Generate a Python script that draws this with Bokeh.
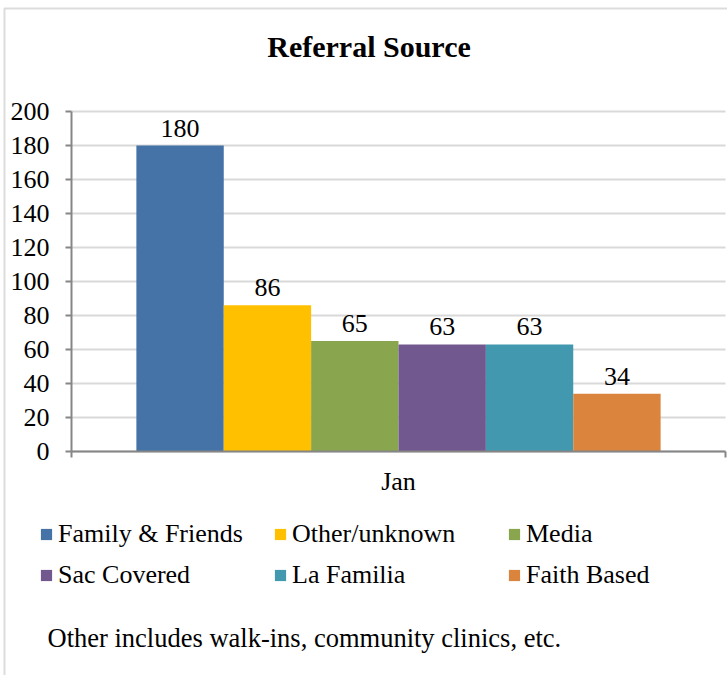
from bokeh.plotting import figure
from bokeh.models import (ColumnDataSource, Legend, LegendItem, Label, BoxAnnotation,
                          LabelSet, LinearAxis, Range1d, FixedTicker, Grid)
from bokeh.transform import dodge
from bokeh.embed import file_html
from bokeh.resources import INLINE

# ---- data ----
categories = ["Jan"]
series = ["Family & Friends", "Other/unknown", "Media", "Sac Covered", "La Familia", "Faith Based"]
values = [180, 86, 65, 63, 63, 34]
colors = ["#4572A7", "#FFC000", "#89A54E", "#71588F", "#4198AF", "#DB843D"]
y_ticks = [0, 20, 40, 60, 80, 100, 120, 140, 160, 180, 200]
y_max = 200
title_text = "Referral Source"
note_text = "Other includes walk-ins, community clinics, etc."

FONT = "Liberation Serif"
FS = "26px"
AXIS_COLOR = "#868686"
GRID_COLOR = "#D9D9D9"
BORDER_COLOR = "#8C8C8C"

# ---- layout constants (pixels) ----
W, H = 727, 675
PLOT_TOP = 111          # pixel row of y_max
PLOT_BOTTOM = 451       # pixel row of 0
PLOT_LEFT, PLOT_RIGHT = 71, 725

ncat = len(categories)
cat_centers = [i + 0.5 for i in range(ncat)]
cat_edges = [float(i) for i in range(ncat + 1)]

# the frame covers the whole canvas; the axes sit at fixed data locations
xpu = (PLOT_RIGHT - PLOT_LEFT) / ncat
ypu = (PLOT_BOTTOM - PLOT_TOP) / y_max
x0, x1 = -PLOT_LEFT / xpu, (W - PLOT_LEFT) / xpu
y0, y1 = -(H - PLOT_BOTTOM) / ypu, y_max + PLOT_TOP / ypu

p = figure(x_range=Range1d(x0, x1), y_range=Range1d(y0, y1),
           width=W, height=H, output_backend="svg", toolbar_location=None,
           x_axis_location=None,
           min_border_left=0, min_border_right=0, min_border_top=0, min_border_bottom=0)
p.outline_line_color = None
p.xgrid.visible = False

# chart border (left and top edges visible)
p.add_layout(BoxAnnotation(left=x0 + 4 / xpu, right=x1 + 20 / xpu,
                           top=y1 - 8 / ypu, bottom=y0 - 20 / ypu,
                           fill_alpha=0, line_color=BORDER_COLOR, line_width=2,
                           level="underlay"))

# y axis
ya = p.yaxis[0]
ya.fixed_location = 0
ya.bounds = (0, y_max)
ya.ticker = FixedTicker(ticks=y_ticks)
ya.major_label_text_font = FONT
ya.major_label_text_font_size = FS
ya.major_label_text_color = "black"
ya.major_label_standoff = 16
ya.major_tick_out = 6
ya.major_tick_in = 0
ya.minor_tick_line_color = None
ya.axis_line_color = AXIS_COLOR
ya.axis_line_width = 2
ya.major_tick_line_color = AXIS_COLOR
ya.major_tick_line_width = 2

yg = p.ygrid[0]
yg.ticker = FixedTicker(ticks=y_ticks)
yg.bounds = (0, y_max)
if "cross_bounds" in Grid.properties():
    yg.cross_bounds = (0, ncat)
yg.grid_line_color = GRID_COLOR
yg.grid_line_width = 2

# x axis: category labels, boundary tick marks at the category edges
xa = LinearAxis(fixed_location=0, bounds=(0, ncat),
                ticker=FixedTicker(ticks=cat_centers, minor_ticks=cat_edges),
                major_label_overrides={c: lab for c, lab in zip(cat_centers, categories)},
                major_tick_line_color=None, major_tick_out=0, major_tick_in=0,
                minor_tick_out=6, minor_tick_in=0,
                minor_tick_line_color=AXIS_COLOR, minor_tick_line_width=2,
                axis_line_color=AXIS_COLOR, axis_line_width=2,
                major_label_text_font=FONT, major_label_text_font_size=FS,
                major_label_text_color="black", major_label_standoff=9)
p.add_layout(xa, "below")

# title
p.add_layout(Label(x=368.5, y=H - 46, x_units="screen", y_units="screen",
                   text=title_text, text_align="center", text_baseline="middle",
                   text_font=FONT, text_font_size="30px", text_font_style="bold",
                   text_color="black"))

# bars + value labels
n = len(series)
bw = 0.1336
renderers = []
for i, (s, v, c) in enumerate(zip(series, values, colors)):
    src = ColumnDataSource(dict(pos=cat_centers, cat=categories, val=[v], lab=[str(v)]))
    off = (i - (n - 1) / 2) * bw
    r = p.vbar(x=dodge("pos", off), top="val", width=bw, source=src,
               fill_color=c, line_color=None)
    renderers.append(r)
    p.add_layout(LabelSet(x=dodge("pos", off), y="val", text="lab", source=src,
                          text_align="center", text_baseline="alphabetic", y_offset=9,
                          text_font=FONT, text_font_size=FS, text_color="black"))

# legend: 3 columns x 2 rows
col_x = [39, 273, 507]
for col in range(3):
    items = [LegendItem(label=series[col], renderers=[renderers[col]]),
             LegendItem(label=series[col + 3], renderers=[renderers[col + 3]])]
    lg = Legend(items=items, location=(col_x[col], 85), orientation="vertical",
                glyph_width=14, glyph_height=14, label_standoff=5, spacing=11,
                label_height=30, padding=0, margin=0, border_line_color=None,
                background_fill_alpha=0,
                label_text_font=FONT, label_text_font_size=FS, label_text_color="black")
    p.add_layout(lg, "center")

# footnote
p.add_layout(Label(x=47, y=H - 637, x_units="screen", y_units="screen",
                   text=note_text, text_align="left", text_baseline="middle",
                   text_font=FONT, text_font_size="26.5px", text_color="black"))

open("out.html", "w").write(file_html(p, INLINE))
